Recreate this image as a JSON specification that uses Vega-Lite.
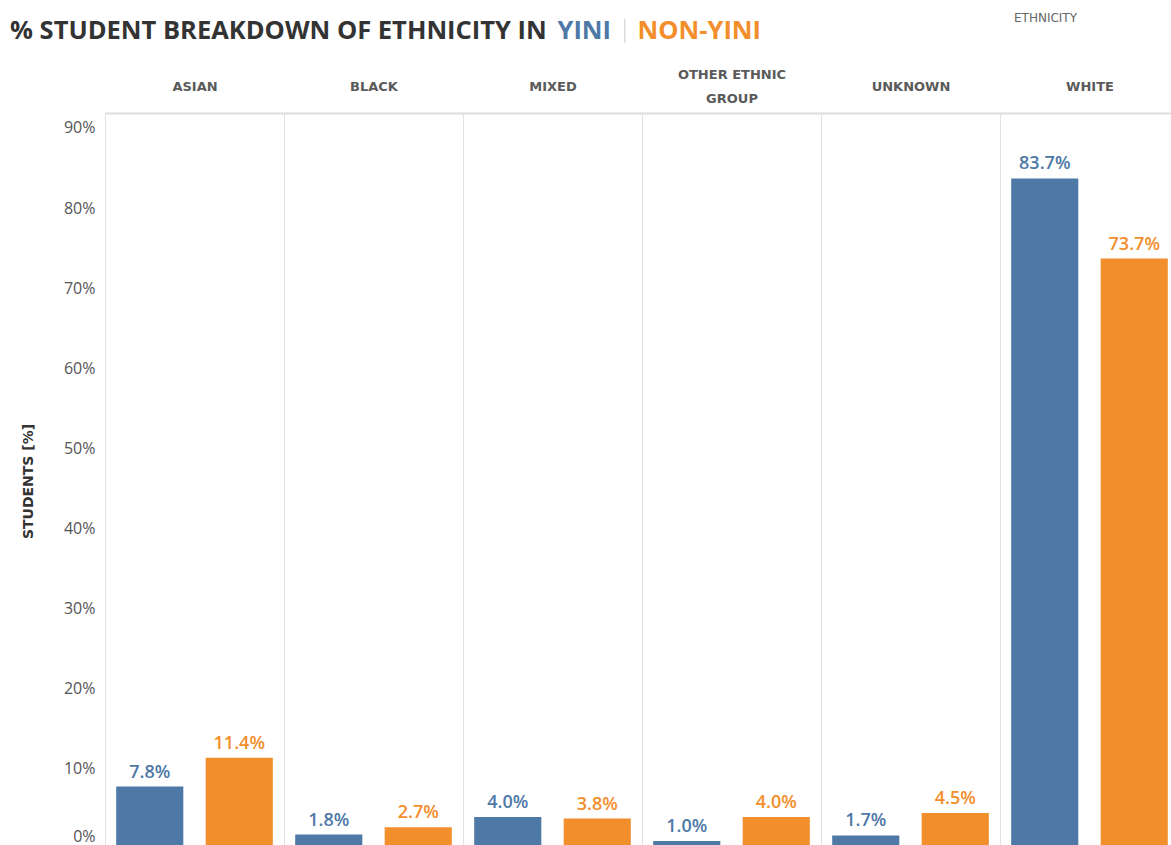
{
  "$schema": "https://vega.github.io/schema/vega-lite/v6.json",
  "autosize": {"type": "none"},
  "padding": {"left": 105, "top": 113, "right": 0, "bottom": 0},
  "width": 1066,
  "height": 732,
  "background": "white",
  "config": {"view": {"stroke": null}, "font": "Open Sans"},
  "title": {
    "text": "% STUDENT BREAKDOWN OF ETHNICITY IN",
    "anchor": "start",
    "frame": "group",
    "dx": -95,
    "dy": 37,
    "font": "Open Sans",
    "fontSize": 25.5,
    "fontWeight": "bold",
    "color": "#333333"
  },
  "data": {
    "values": [
      {"ethnicity": "ASIAN", "group": "YINI", "pct": 0.078},
      {"ethnicity": "ASIAN", "group": "NON-YINI", "pct": 0.114},
      {"ethnicity": "BLACK", "group": "YINI", "pct": 0.018},
      {"ethnicity": "BLACK", "group": "NON-YINI", "pct": 0.027},
      {"ethnicity": "MIXED", "group": "YINI", "pct": 0.040},
      {"ethnicity": "MIXED", "group": "NON-YINI", "pct": 0.038},
      {"ethnicity": "OTHER ETHNIC GROUP", "group": "YINI", "pct": 0.010},
      {"ethnicity": "OTHER ETHNIC GROUP", "group": "NON-YINI", "pct": 0.040},
      {"ethnicity": "UNKNOWN", "group": "YINI", "pct": 0.017},
      {"ethnicity": "UNKNOWN", "group": "NON-YINI", "pct": 0.045},
      {"ethnicity": "WHITE", "group": "YINI", "pct": 0.837},
      {"ethnicity": "WHITE", "group": "NON-YINI", "pct": 0.737}
    ]
  },
  "encoding": {
    "x": {
      "field": "ethnicity",
      "type": "nominal",
      "sort": ["ASIAN", "BLACK", "MIXED", "OTHER ETHNIC GROUP", "UNKNOWN", "WHITE"],
      "scale": {"range": [0, 1074], "paddingInner": 0, "paddingOuter": 0},
      "axis": {
        "orient": "top",
        "title": "ETHNICITY",
        "titleX": 940,
        "titleY": -96,
        "titleAlign": "center",
        "titleBaseline": "middle",
        "titleFont": "DejaVu Sans",
        "titleFontSize": 12,
        "titleFontWeight": "normal",
        "titleColor": "#666666",
        "tickBand": "extent",
        "ticks": false,
        "grid": true,
        "gridColor": "#e2e2e2",
        "gridWidth": 1,
        "domain": true,
        "domainColor": "#dddddd",
        "domainWidth": 2,
        "labelAngle": 0,
        "labelBaseline": "middle",
        "labelPadding": {"condition": {"test": "datum.value == 'OTHER ETHNIC GROUP'", "value": 39}, "value": 27},
        "labelFont": "DejaVu Sans",
        "labelFontSize": 13,
        "labelFontWeight": "bold",
        "labelColor": "#5a5a5a",
        "labelLineHeight": 24,
        "labelLimit": 300,
        "labelExpr": "datum.label == 'OTHER ETHNIC GROUP' ? ['OTHER ETHNIC', 'GROUP'] : datum.label"
      }
    },
    "xOffset": {
      "field": "group",
      "type": "nominal",
      "sort": ["YINI", "NON-YINI"],
      "scale": {"paddingInner": 0.25, "paddingOuter": 0.125}
    },
    "y": {
      "field": "pct",
      "type": "quantitative",
      "scale": {"domain": [0, 0.9187], "range": [736, 0], "nice": false, "zero": true},
      "axis": {
        "title": "STUDENTS [%]",
        "titleX": -70,
        "titleY": 368,
        "titleFont": "DejaVu Sans",
        "titleFontSize": 14,
        "titleFontWeight": "bold",
        "titleColor": "#333333",
        "values": [0, 0.1, 0.2, 0.3, 0.4, 0.5, 0.6, 0.7, 0.8, 0.9],
        "format": ".0%",
        "grid": false,
        "ticks": false,
        "domain": true,
        "domainColor": "#e2e2e2",
        "labelPadding": 10,
        "labelFont": "Open Sans",
        "labelFontSize": 16,
        "labelColor": "#555555",
        "labelOffset": {"condition": {"test": "datum.value == 0", "value": -13}, "value": 0}
      }
    },
    "color": {
      "field": "group",
      "type": "nominal",
      "sort": ["YINI", "NON-YINI"],
      "scale": {"domain": ["YINI", "NON-YINI"], "range": ["#4e79a7", "#f28e2b"]},
      "legend": {
        "orient": "none",
        "legendX": 427,
        "legendY": -95,
        "direction": "horizontal",
        "title": null,
        "padding": 0,
        "columnPadding": -3,
        "symbolType": "M0,-1L0,1",
        "symbolSize": 576,
        "symbolStrokeColor": "#cccccc",
        "symbolStrokeWidth": 1,
        "labelOffset": 0,
        "labelFont": "Open Sans",
        "labelFontSize": 25.5,
        "labelFontWeight": "bold",
        "encode": {
          "symbols": {
            "update": {
              "fill": {"value": "transparent"},
              "stroke": {"value": "#cccccc"},
              "strokeWidth": {"value": 1},
              "opacity": {"signal": "datum.value == 'NON-YINI' ? 1 : 0"}
            }
          },
          "labels": {
            "update": {
              "fill": {"scale": "color", "field": "value"}
            }
          }
        }
      }
    }
  },
  "layer": [
    {"mark": {"type": "bar"}},
    {
      "mark": {"type": "text", "baseline": "bottom", "dy": -5, "font": "Open Sans", "fontSize": 18, "fontWeight": 600},
      "encoding": {
        "text": {"field": "pct", "type": "quantitative", "format": ".1%"}
      }
    }
  ]
}
